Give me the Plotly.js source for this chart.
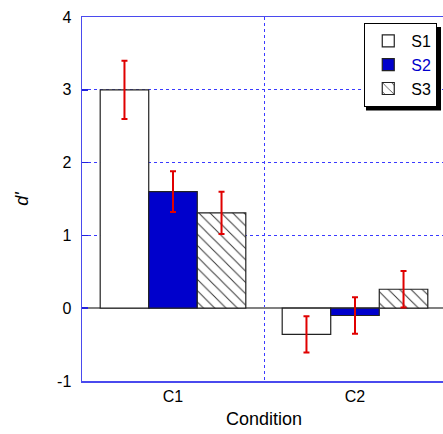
<!DOCTYPE html>
<html><head><meta charset="utf-8">
<script src="https://cdn.plot.ly/plotly-3.0.1.min.js"></script>
<style>html,body{margin:0;padding:0;overflow:hidden;background:#fff}</style>
</head><body>
<div id="chart"></div>
<script>
const categories = ['C1', 'C2'];
const seriesNames = ['S1', 'S2', 'S3'];
const s1Values = [3.0, -0.36];
const s2Values = [1.6, -0.1];
const s3Values = [1.31, 0.26];
const s1Errors = [0.40, 0.25];
const s2Errors = [0.28, 0.25];
const s3Errors = [0.29, 0.25];
const yTicks = [-1, 0, 1, 2, 3, 4];

const errStyle = (arr) => ({type: 'data', array: arr, visible: true, color: '#e00000', thickness: 2, width: 3});
const lineStyle = {color: '#222', width: 1.2};

const traces = [
  {type: 'bar', x: categories, y: s1Values, name: seriesNames[0],
   marker: {color: '#ffffff', line: lineStyle}, error_y: errStyle(s1Errors)},
  {type: 'bar', x: categories, y: s2Values, name: '<span style="color:#0000cc">' + seriesNames[1] + '</span>',
   marker: {color: '#0000cc', line: lineStyle}, error_y: errStyle(s2Errors)},
  {type: 'bar', x: categories, y: s3Values, name: seriesNames[2],
   marker: {color: '#ffffff', line: lineStyle,
            pattern: {shape: '\\', fgcolor: '#333', bgcolor: '#ffffff', size: 8, solidity: 0.12}},
   error_y: errStyle(s3Errors)}
];

const layout = {
  width: 446, height: 434,
  margin: {l: 82, r: 0, t: 17, b: 53},
  paper_bgcolor: '#ffffff', plot_bgcolor: '#ffffff',
  font: {family: 'Liberation Sans, Arial, sans-serif', color: '#000', size: 16},
  barmode: 'group', bargap: 0.2, bargroupgap: 0,
  showlegend: true,
  legend: {x: 0.976, y: 0.9835, xanchor: 'right', yanchor: 'top',
           bgcolor: '#ffffff', bordercolor: '#000', borderwidth: 1,
           font: {size: 16, color: '#000'}, itemwidth: 36,
           entrywidth: 72, entrywidthmode: 'pixels'},
  xaxis: {type: 'category', range: [-0.5, 1.5], tickson: 'boundaries',
          showgrid: true, gridcolor: '#3a3aff', griddash: 'dot', gridwidth: 1,
          showline: true, linecolor: '#4a4aee', linewidth: 1.5, mirror: true,
          ticks: '', tickfont: {size: 16},
          title: {text: 'Condition', font: {size: 18}, standoff: 8}},
  yaxis: {range: [-1, 4], tickvals: yTicks, ticktext: yTicks.map(String),
          showgrid: true, gridcolor: '#3a3aff', griddash: 'dot', gridwidth: 1,
          zeroline: true, zerolinecolor: '#808080', zerolinewidth: 2,
          showline: true, linecolor: '#4a4aee', linewidth: 1.5, mirror: true,
          ticks: 'inside', ticklen: 6, tickcolor: '#2222dd', tickwidth: 1.5,
          ticklabelstandoff: 6, tickfont: {size: 16},
          title: {text: "<i>d'</i>", font: {size: 18}, standoff: 24}},
  shapes: [
    // legend drop shadow (decoration)
    {type: 'rect', xref: 'paper', yref: 'paper', layer: 'above',
     x0: 0.7802, x1: 0.9863, y0: 0.7434, y1: 0.9725,
     fillcolor: '#000', line: {width: 0}}
  ]
};

Plotly.newPlot('chart', traces, layout, {displayModeBar: false, staticPlot: true});
</script>
</body></html>
